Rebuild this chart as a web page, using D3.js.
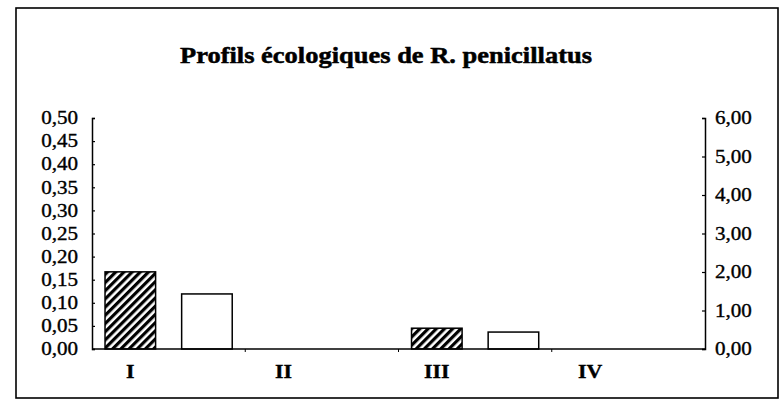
<!DOCTYPE html>
<html lang="fr">
<head>
<meta charset="UTF-8">
<title>Profils écologiques de R. penicillatus</title>
<style>
  body { margin: 0; background: #fff; }
  text { font-family: "Liberation Serif", "Times New Roman", serif; fill: #000; stroke: #000; stroke-width: 0.35px; }
  .domain { stroke: #000; stroke-width: 1.5px; }
  .tick line { stroke: #000; stroke-width: 1.2px; }
</style>
</head>
<body>
<svg width="784" height="403"></svg>
<script src="https://d3js.org/d3.v7.min.js"></script>
<script>
// data
const categories = ["I", "II", "III", "IV"];
const series = ["gauche", "droite"];
const leftValues = [0.167, 0, 0.045, 0];   // hatched bars, left axis
const rightValues = [1.43, 0, 0.44, 0];    // white bars, right axis
const leftTicks = d3.range(0, 0.501, 0.05);
const rightTicks = d3.range(0, 6.01, 1);

const svg = d3.select("svg");
const fmt = d => d3.format(".2f")(d).replace(".", ",");

// the scanned original is a bit wider than plain Times
function stretch(sel, k) {
  sel.each(function() {
    const w = this.getComputedTextLength();
    d3.select(this).attr("textLength", w * k).attr("lengthAdjust", "spacingAndGlyphs");
  });
}

// frame
svg.append("rect")
    .attr("x", 16).attr("y", 8)
    .attr("width", 762).attr("height", 390)
    .attr("fill", "none").attr("stroke", "#000").attr("stroke-width", 1.6);

// title
svg.append("text")
    .attr("x", 386).attr("y", 63)
    .attr("text-anchor", "middle")
    .attr("font-size", 23).attr("font-weight", "bold")
    .style("stroke-width", "0.5px")
    .text("Profils écologiques de R. penicillatus")
    .attr("textLength", 412).attr("lengthAdjust", "spacingAndGlyphs");

const pLeft = 92, pRight = 705, pTop = 118, pBottom = 349;

const x = d3.scaleBand().domain(categories).range([pLeft, pRight]);
const xs = d3.scaleBand().domain(series).range([0, x.bandwidth()])
    .paddingInner(0.34).paddingOuter(0.17);
const yL = d3.scaleLinear().domain([0, 0.5]).range([pBottom, pTop]);
const yR = d3.scaleLinear().domain([0, 6]).range([pBottom, pTop]);

// hatch pattern
const pat = svg.append("defs").append("pattern")
    .attr("id", "hatch").attr("patternUnits", "userSpaceOnUse")
    .attr("width", 5.8).attr("height", 5.8)
    .attr("patternTransform", "rotate(45)");
pat.append("rect").attr("width", 5.8).attr("height", 5.8).attr("fill", "#fff");
pat.append("rect").attr("width", 3.2).attr("height", 5.8).attr("fill", "#000");

// bars
svg.append("g").selectAll("rect")
    .data(categories.map((c, i) => ({c, v: leftValues[i]})).filter(d => d.v > 0))
    .join("rect")
    .attr("x", d => x(d.c) + xs("gauche"))
    .attr("width", xs.bandwidth())
    .attr("y", d => yL(d.v))
    .attr("height", d => pBottom - yL(d.v))
    .attr("fill", "url(#hatch)")
    .attr("stroke", "#000").attr("stroke-width", 1.5);

svg.append("g").selectAll("rect")
    .data(categories.map((c, i) => ({c, v: rightValues[i]})).filter(d => d.v > 0))
    .join("rect")
    .attr("x", d => x(d.c) + xs("droite"))
    .attr("width", xs.bandwidth())
    .attr("y", d => yR(d.v))
    .attr("height", d => pBottom - yR(d.v))
    .attr("fill", "#fff")
    .attr("stroke", "#000").attr("stroke-width", 1.5);

// axes
const gL = svg.append("g")
    .attr("transform", `translate(${pLeft},0)`)
    .call(d3.axisLeft(yL).tickValues(leftTicks).tickFormat(fmt).tickSize(-3).tickPadding(14));
gL.selectAll("text").attr("font-size", 18).attr("font-family", "Liberation Serif").call(stretch, 1.17);

const gR = svg.append("g")
    .attr("transform", `translate(${pRight},0)`)
    .call(d3.axisRight(yR).tickValues(rightTicks).tickFormat(fmt).tickSize(-3).tickPadding(10));
gR.selectAll("text").attr("font-size", 18).attr("font-family", "Liberation Serif").call(stretch, 1.17);

const gX = svg.append("g")
    .attr("transform", `translate(0,${pBottom})`)
    .call(d3.axisBottom(x).tickSize(0).tickFormat(""));
gX.select(".domain").attr("d", `M${pLeft},0H${pRight}`);
gX.selectAll(".tick").remove();
// category separators
gX.selectAll("line.sep")
    .data(categories.slice(1))
    .join("line")
    .attr("class", "sep")
    .attr("x1", d => x(d)).attr("x2", d => x(d))
    .attr("y1", 0).attr("y2", 3)
    .attr("stroke", "#000");

// category labels
svg.append("g").selectAll("text")
    .data(categories)
    .join("text")
    .attr("x", d => x(d) + x.bandwidth() * 0.25)
    .attr("y", 378)
    .attr("text-anchor", "middle")
    .attr("font-size", 19).attr("font-weight", "bold")
    .text(d => d)
    .call(stretch, 1.15);
</script>
</body>
</html>
